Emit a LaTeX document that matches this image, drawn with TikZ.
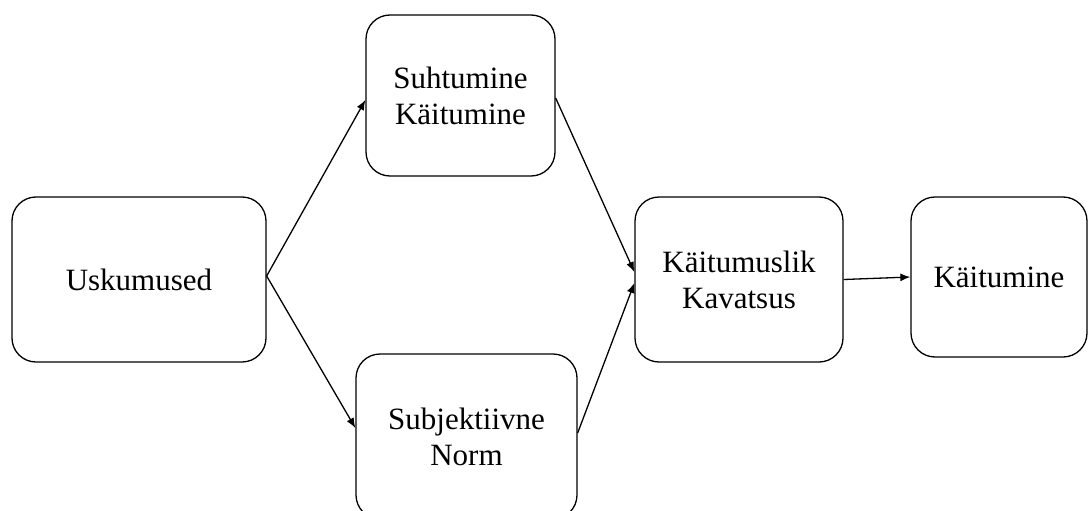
\documentclass[tikz,border=0pt]{standalone}
\usepackage{fontspec}
\setmainfont{Liberation Serif}
\usetikzlibrary{arrows.meta}
\begin{document}
\begin{tikzpicture}[x=1pt,y=-1pt,
  box/.style={draw, line width=1.3pt, rounded corners=24pt, align=center,
    font=\fontsize{31}{36}\selectfont, inner sep=0pt},
  link/.style={line width=1.3pt, -{Latex[length=10pt,width=8pt]}}]
\useasboundingbox (0,0) rectangle (1089,511);
\clip (0,0) rectangle (1089,511);
% boxes of the model
\node[box, minimum width=254pt, minimum height=165pt] (u)  at (139,279.5)   {Uskumused};
\node[box, minimum width=189pt, minimum height=161pt] (st) at (460.5,95.5)  {Suhtumine\\Käitumine};
\node[box, minimum width=221pt, minimum height=165pt] (sn) at (466.5,436.5) {Subjektiivne\\Norm};
\node[box, minimum width=208pt, minimum height=165pt] (kk) at (739,279.5)   {Käitumuslik\\Kavatsus};
\node[box, minimum width=176pt, minimum height=160pt] (k)  at (999,277)     {Käitumine};
% influences between them
\draw[link] ([yshift=3.5pt]u.east) -- ([yshift=-4.5pt]st.west);
\draw[link] ([yshift=3.5pt]u.east) -- ([yshift=8.5pt]sn.west);
\draw[link] ([yshift=-2.5pt]st.east) -- ([yshift=7.5pt]kk.west);
\draw[link] ([yshift=3.5pt]sn.east) -- ([yshift=-3.5pt]kk.west);
\draw[link] (kk.east) -- (k.west);
\end{tikzpicture}
\end{document}
